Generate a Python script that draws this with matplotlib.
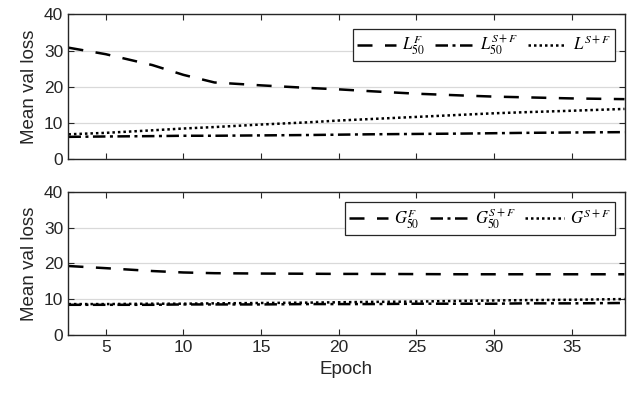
import matplotlib
matplotlib.use("Agg")
import matplotlib.pyplot as plt

# data
epochs = [2.6, 5, 8, 10, 12, 15, 18, 20, 22, 25, 28, 30, 32, 35, 38.4]

L50_F = [30.8, 29.0, 26.0, 23.3, 21.2, 20.4, 19.7, 19.3, 18.8, 18.1, 17.6, 17.3, 17.1, 16.8, 16.6]
L50_SF = [6.2, 6.3, 6.4, 6.5, 6.5, 6.6, 6.7, 6.8, 6.9, 7.0, 7.1, 7.2, 7.3, 7.4, 7.5]
L_SF = [6.9, 7.3, 8.0, 8.5, 8.9, 9.6, 10.2, 10.7, 11.1, 11.7, 12.3, 12.7, 13.0, 13.4, 13.9]

G50_F = [19.3, 18.7, 17.9, 17.5, 17.3, 17.2, 17.15, 17.1, 17.1, 17.05, 17.0, 17.0, 17.0, 17.0, 17.0]
G50_SF = [8.5, 8.5, 8.5, 8.6, 8.6, 8.6, 8.7, 8.7, 8.7, 8.8, 8.8, 8.8, 8.9, 8.9, 9.0]
G_SF = [8.7, 8.7, 8.8, 8.8, 8.9, 9.0, 9.1, 9.2, 9.3, 9.4, 9.6, 9.7, 9.8, 9.9, 10.1]

x_ticks = [5, 10, 15, 20, 25, 30, 35]
y_ticks = [0, 10, 20, 30, 40]

plt.rcParams['font.family'] = ['Liberation Sans', 'DejaVu Sans']
plt.rcParams['mathtext.fontset'] = 'stix'

dark = '#262626'
styles = {
    'dash': dict(dashes=(6, 5), lw=1.8),
    'dashdot': dict(dashes=(5, 1.8, 1.2, 1.8), lw=1.8),
    'dot': dict(dashes=(1.0, 1.2), lw=1.8),
}


def setup(ax):
    ax.set_xlim(2.57, 38.4)
    ax.set_ylim(0, 40)
    ax.set_xticks(x_ticks)
    ax.set_yticks(y_ticks)
    ax.yaxis.grid(True, color='#d9d9d9', lw=0.9)
    ax.set_axisbelow(True)
    ax.tick_params(direction='in', top=True, right=True, length=4,
                   color=dark, labelcolor=dark, labelsize=12.5, width=0.8)
    for s in ax.spines.values():
        s.set_color(dark)
        s.set_linewidth(1.0)
    ax.set_ylabel('Mean val loss', fontsize=13.5, color=dark, labelpad=4)


fig = plt.figure(figsize=(6.33, 4.01), dpi=100)
ax1 = fig.add_axes([0.1074, 0.6027, 0.8792, 0.3616])
ax2 = fig.add_axes([0.1074, 0.1638, 0.8792, 0.3582])

ax1.plot(epochs, L50_F, color='k', label=r'$L^{F}_{50}$', **styles['dash'])
ax1.plot(epochs, L50_SF, color='k', label=r'$L^{S+F}_{50}$', **styles['dashdot'])
ax1.plot(epochs, L_SF, color='k', label=r'$L^{S+F}$', **styles['dot'])

ax2.plot(epochs, G50_F, color='k', label=r'$G^{F}_{50}$', **styles['dash'])
ax2.plot(epochs, G50_SF, color='k', label=r'$G^{S+F}_{50}$', **styles['dashdot'])
ax2.plot(epochs, G_SF, color='k', label=r'$G^{S+F}$', **styles['dot'])

for ax, top in [(ax1, 0.90), (ax2, 0.925)]:
    setup(ax)
    leg = ax.legend(loc='upper right', bbox_to_anchor=(0.983, top), ncol=3,
                    fontsize=12, frameon=True, fancybox=False, framealpha=1,
                    edgecolor=dark, handlelength=2.3, handletextpad=0.4,
                    columnspacing=0.6, borderpad=0.25, borderaxespad=0)
    leg.get_frame().set_linewidth(0.9)

ax1.tick_params(labelbottom=False)
ax2.set_xlabel('Epoch', fontsize=13.5, color=dark, labelpad=4)

fig.savefig('out.png', dpi=100)
